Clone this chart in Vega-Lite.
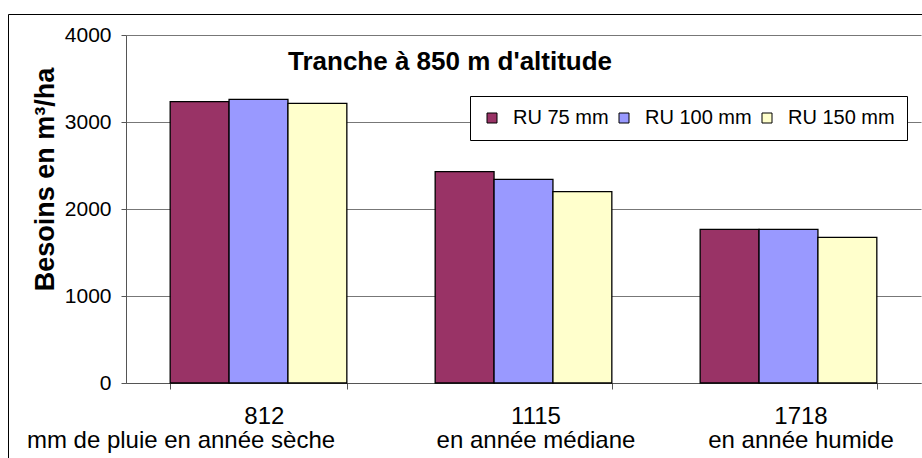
{
  "$schema": "https://vega.github.io/schema/vega-lite/v6.json",
  "autosize": {"type": "none"},
  "padding": {"left": 8, "top": 14, "right": -1, "bottom": -1},
  "width": 915,
  "height": 445,
  "background": "white",
  "title": {
    "text": "Tranche à 850 m d'altitude",
    "anchor": "start",
    "frame": "group",
    "offset": 0,
    "baseline": "alphabetic",
    "dx": 280,
    "dy": 82,
    "fontSize": 26,
    "fontWeight": "bold",
    "color": "black",
    "font": "Liberation Sans, Arial, sans-serif"
  },
  "data": {
    "values": [
      {"pluie": "812", "serie": "RU 75 mm", "besoin": 3235},
      {"pluie": "812", "serie": "RU 100 mm", "besoin": 3260},
      {"pluie": "812", "serie": "RU 150 mm", "besoin": 3215},
      {"pluie": "1115", "serie": "RU 75 mm", "besoin": 2430},
      {"pluie": "1115", "serie": "RU 100 mm", "besoin": 2340},
      {"pluie": "1115", "serie": "RU 150 mm", "besoin": 2200},
      {"pluie": "1718", "serie": "RU 75 mm", "besoin": 1765},
      {"pluie": "1718", "serie": "RU 100 mm", "besoin": 1765},
      {"pluie": "1718", "serie": "RU 150 mm", "besoin": 1675}
    ]
  },
  "mark": {"type": "bar", "stroke": "black", "strokeWidth": 1.3},
  "encoding": {
    "x": {
      "field": "pluie",
      "type": "nominal",
      "sort": ["812", "1115", "1718"],
      "scale": {"range": [118, 913], "paddingInner": 0.3333, "paddingOuter": 0.1667},
      "axis": {
        "offset": -76,
        "title": null,
        "labelAngle": 0,
        "labelFontSize": 24,
        "labelColor": "black",
        "labelBaseline": "alphabetic",
        "labelPadding": 34,
        "labelLineHeight": 24,
        "labelOffset": 12,
        "labelOverlap": false,
        "labelBound": false,
        "labelLimit": 0,
        "tickBand": "extent",
        "tickSize": 6,
        "tickColor": "#555",
        "domainColor": "#555",
        "labelExpr": "datum.value == '812' ? ['812\u00a0\u00a0\u200b', 'mm de pluie en année sèche\u00a0\u00a0\u00a0\u00a0\u00a0\u00a0\u00a0\u00a0\u00a0\u00a0\u00a0\u00a0\u00a0\u00a0\u00a0\u00a0\u00a0\u00a0\u00a0\u00a0\u00a0\u00a0\u00a0\u00a0\u00a0\u00a0\u00a0\u200b'] : datum.value == '1115' ? ['1115', 'en année médiane'] : datum.value == '1718' ? ['1718', 'en année humide'] : ''"
      }
    },
    "xOffset": {
      "field": "serie",
      "type": "nominal",
      "sort": ["RU 75 mm", "RU 100 mm", "RU 150 mm"],
      "scale": {"paddingInner": 0, "paddingOuter": 0}
    },
    "y": {
      "field": "besoin",
      "type": "quantitative",
      "scale": {"domain": [0, 4000], "nice": false, "range": [369, 21]},
      "axis": {
        "offset": -118,
        "values": [0, 1000, 2000, 3000, 4000],
        "format": "d",
        "title": "Besoins en m³/ha",
        "titleFontSize": 27,
        "titleFontWeight": "bold",
        "titleColor": "black",
        "titleAngle": -90,
        "titleX": -73,
        "titleY": 165,
        "titleAlign": "center",
        "titleBaseline": "alphabetic",
        "labelFontSize": 21,
        "labelColor": "black",
        "labelPadding": 10,
        "tickSize": 5,
        "tickColor": "#555",
        "domainColor": "#555",
        "grid": true,
        "gridColor": "#777",
        "gridWidth": 1
      }
    },
    "color": {
      "field": "serie",
      "type": "nominal",
      "scale": {
        "domain": ["RU 75 mm", "RU 100 mm", "RU 150 mm"],
        "range": ["#993366", "#9999FF", "#FFFFCC"]
      },
      "legend": {
        "title": null,
        "orient": "none",
        "legendX": 462,
        "legendY": 82,
        "direction": "horizontal",
        "fillColor": "white",
        "strokeColor": "black",
        "padding": 12,
        "symbolType": "square",
        "symbolSize": 100,
        "symbolStrokeColor": "black",
        "symbolStrokeWidth": 1,
        "labelFontSize": 20,
        "labelColor": "black",
        "labelOffset": 11,
        "columnPadding": 5
      }
    }
  },
  "config": {
    "font": "Liberation Sans, Arial, sans-serif",
    "view": {"stroke": "black", "strokeWidth": 1}
  }
}
